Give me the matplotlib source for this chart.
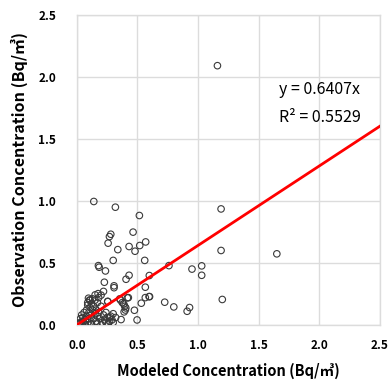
import numpy as np
import matplotlib
matplotlib.use("Agg")
import matplotlib.pyplot as plt

plt.rcParams['font.family'] = ['Noto Sans CJK KR', 'DejaVu Sans']

modeled = [
    1.16, 1.19, 1.19, 1.65, 1.20, 0.95, 1.03, 1.03, 0.93, 0.91,
    0.76, 0.60, 0.725, 0.80,
    0.14, 0.318, 0.516, 0.464, 0.28, 0.269, 0.258, 0.568, 0.519, 0.431,
    0.48, 0.338, 0.30, 0.56, 0.178, 0.184, 0.236, 0.598, 0.431, 0.406,
    0.227, 0.307, 0.307, 0.565, 0.175, 0.151, 0.096, 0.104, 0.09, 0.417,
    0.255, 0.354, 0.596, 0.565, 0.532, 0.387, 0.404, 0.39, 0.475, 0.365,
    0.497, 0.165, 0.425, 0.36, 0.375, 0.395, 0.40, 0.255,
    0.02, 0.03, 0.04, 0.05, 0.03, 0.06, 0.07, 0.04, 0.06, 0.08,
    0.09, 0.10, 0.08, 0.10, 0.11, 0.12, 0.13, 0.12, 0.14, 0.15,
    0.13, 0.16, 0.17, 0.18, 0.20, 0.22, 0.20, 0.18, 0.14, 0.16,
    0.19, 0.21, 0.23, 0.25, 0.27, 0.28, 0.30, 0.26, 0.22, 0.24,
    0.12, 0.10, 0.07, 0.05, 0.09, 0.11, 0.20, 0.32, 0.30, 0.17,
    0.27, 0.29, 0.24, 0.15,
]
observed = [
    2.09, 0.935, 0.60, 0.573, 0.205, 0.45, 0.476, 0.40, 0.14, 0.11,
    0.478, 0.228, 0.183, 0.145,
    0.995, 0.949, 0.882, 0.748, 0.731, 0.712, 0.659, 0.669, 0.64, 0.632,
    0.594, 0.607, 0.52, 0.52, 0.478, 0.465, 0.435, 0.398, 0.40, 0.368,
    0.344, 0.315, 0.30, 0.304, 0.252, 0.242, 0.215, 0.20, 0.18, 0.218,
    0.188, 0.21, 0.228, 0.22, 0.175, 0.169, 0.137, 0.105, 0.118, 0.043,
    0.04, 0.014, 0.22, 0.20, 0.18, 0.15, 0.12, 0.19,
    0.01, 0.02, 0.00, 0.03, 0.05, 0.01, 0.04, 0.08, 0.10, 0.07,
    0.02, 0.05, 0.12, 0.10, 0.14, 0.08, 0.12, 0.17, 0.15, 0.20,
    0.21, 0.12, 0.18, 0.22, 0.24, 0.27, 0.15, 0.10, 0.05, 0.03,
    0.05, 0.02, 0.04, 0.06, 0.03, 0.07, 0.02, 0.01, 0.08, 0.10,
    0.01, 0.00, 0.00, 0.06, 0.16, 0.20, 0.00, 0.06, 0.09, 0.07,
    0.06, 0.04, 0.02, 0.09,
]
slope = 0.6407
r2 = 0.5529
ticks = [0.0, 0.5, 1.0, 1.5, 2.0, 2.5]

fig = plt.figure(figsize=(3.9, 3.8), dpi=100)
ax = fig.add_axes([0.197, 0.145, 0.777, 0.816])

ax.scatter(modeled, observed, s=22, facecolors='none', edgecolors='#3a3a3a',
           linewidths=0.8, zorder=3)
fit_x = np.array([0.0, 2.5])
ax.plot(fit_x, slope * fit_x, color='#ff0000', lw=2.0, zorder=4)

ax.set_xlim(0, 2.5)
ax.set_ylim(0, 2.5)
ax.set_xticks(ticks)
ax.set_yticks(ticks)
ax.set_xticklabels(['%.1f' % t for t in ticks], fontsize=8.5, fontweight='bold')
ax.set_yticklabels(['%.1f' % t for t in ticks], fontsize=8.5, fontweight='bold')
ax.tick_params(length=0)
ax.tick_params(axis='y', pad=15)
ax.tick_params(axis='x', pad=10)
ax.grid(True, color='#dcdcdc', lw=1.0, zorder=0)
for sp in ax.spines.values():
    sp.set_color('#dcdcdc')
    sp.set_linewidth(1.0)

ax.set_xlabel('Modeled Concentration (Bq/㎥)', fontsize=10.5, fontweight='bold', labelpad=8)
ax.set_ylabel('Observation Concentration (Bq/㎥)', fontsize=11.5, fontweight='bold', labelpad=7)

ax.text(1.665, 1.895, 'y = %.4fx' % slope, fontsize=11.5, fontweight='medium',
        va='center', ha='left')
ax.text(1.665, 1.669, 'R² = %.4f' % r2, fontsize=11.5, fontweight='medium',
        va='center', ha='left')

fig.savefig('out.png', dpi=100)
